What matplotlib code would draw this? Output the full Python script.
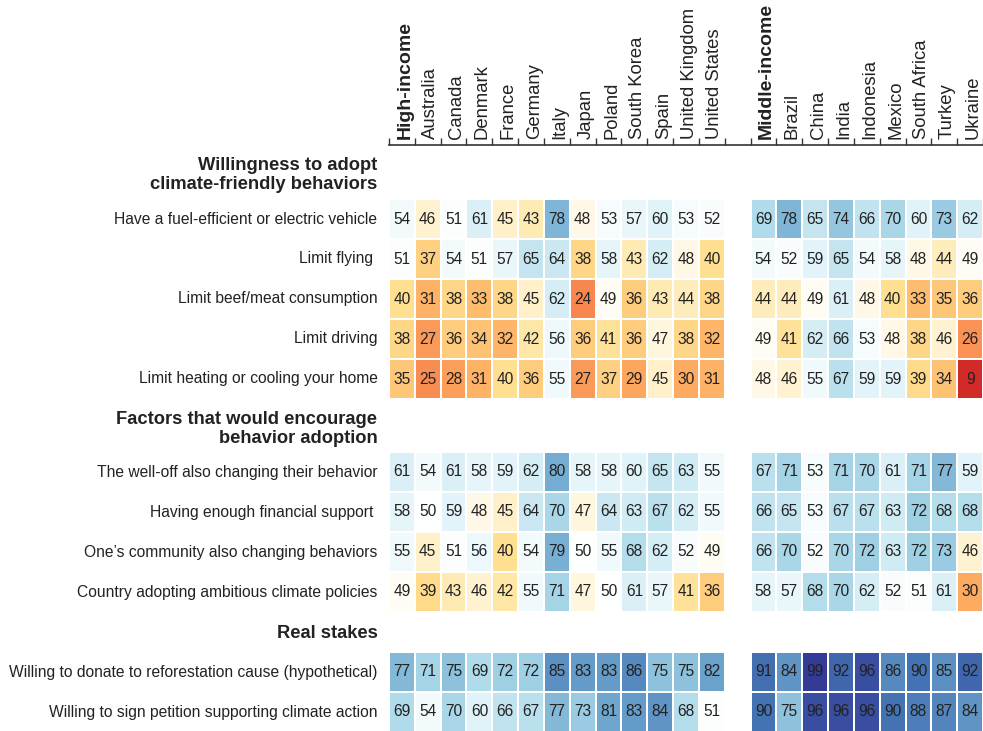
import matplotlib

matplotlib.use("Agg")
import matplotlib.pyplot as plt
from matplotlib.colors import LinearSegmentedColormap
import numpy as np

plt.rcParams["font.family"] = ["Liberation Sans", "DejaVu Sans"]

# %%
high_cols = ["High-income", "Australia", "Canada", "Denmark", "France", "Germany",
             "Italy", "Japan", "Poland", "South Korea", "Spain", "United Kingdom",
             "United States"]
mid_cols = ["Middle-income", "Brazil", "China", "India", "Indonesia", "Mexico",
            "South Africa", "Turkey", "Ukraine"]

sec1_title = "Willingness to adopt\nclimate-friendly behaviors"
sec1_rows = ["Have a fuel-efficient or electric vehicle", "Limit flying ",
             "Limit beef/meat consumption", "Limit driving",
             "Limit heating or cooling your home"]
sec1_high = [
    [54, 46, 51, 61, 45, 43, 78, 48, 53, 57, 60, 53, 52],
    [51, 37, 54, 51, 57, 65, 64, 38, 58, 43, 62, 48, 40],
    [40, 31, 38, 33, 38, 45, 62, 24, 49, 36, 43, 44, 38],
    [38, 27, 36, 34, 32, 42, 56, 36, 41, 36, 47, 38, 32],
    [35, 25, 28, 31, 40, 36, 55, 27, 37, 29, 45, 30, 31],
]
sec1_mid = [
    [69, 78, 65, 74, 66, 70, 60, 73, 62],
    [54, 52, 59, 65, 54, 58, 48, 44, 49],
    [44, 44, 49, 61, 48, 40, 33, 35, 36],
    [49, 41, 62, 66, 53, 48, 38, 46, 26],
    [48, 46, 55, 67, 59, 59, 39, 34, 9],
]

sec2_title = "Factors that would encourage\nbehavior adoption"
sec2_rows = ["The well-off also changing their behavior",
             "Having enough financial support ",
             "One\u2019s community also changing behaviors",
             "Country adopting ambitious climate policies"]
sec2_high = [
    [61, 54, 61, 58, 59, 62, 80, 58, 58, 60, 65, 63, 55],
    [58, 50, 59, 48, 45, 64, 70, 47, 64, 63, 67, 62, 55],
    [55, 45, 51, 56, 40, 54, 79, 50, 55, 68, 62, 52, 49],
    [49, 39, 43, 46, 42, 55, 71, 47, 50, 61, 57, 41, 36],
]
sec2_mid = [
    [67, 71, 53, 71, 70, 61, 71, 77, 59],
    [66, 65, 53, 67, 67, 63, 72, 68, 68],
    [66, 70, 52, 70, 72, 63, 72, 73, 46],
    [58, 57, 68, 70, 62, 52, 51, 61, 30],
]

sec3_title = "Real stakes"
sec3_rows = ["Willing to donate to reforestation cause (hypothetical)",
             "Willing to sign petition supporting climate action"]
sec3_high = [
    [77, 71, 75, 69, 72, 72, 85, 83, 83, 86, 75, 75, 82],
    [69, 54, 70, 60, 66, 67, 77, 73, 81, 83, 84, 68, 51],
]
sec3_mid = [
    [91, 84, 99, 92, 96, 86, 90, 85, 92],
    [90, 75, 96, 96, 96, 90, 88, 87, 84],
]

# %%
# RdYlBu, but with a white midpoint at 50
base = matplotlib.colormaps["RdYlBu"]
stops = [0, 0.1, 0.2, 0.3, 0.4, 0.5, 0.6, 0.7, 0.8, 0.9, 1.0]
colors = [base(s) if s != 0.5 else (1, 1, 1, 1) for s in stops]
cmap = LinearSegmentedColormap.from_list("rdwbu", list(zip(stops, colors)))

columns = high_cols + [""] + mid_cols
ncol = len(columns)

fig = plt.figure(figsize=(9.83, 7.31), dpi=100)
ax = fig.add_axes([389 / 983, 0, 594 / 983, 586 / 731])
ax.set_xlim(0, ncol)
ax.set_ylim(14.65, 0)

sections = [
    (sec1_title, sec1_rows, sec1_high, sec1_mid, 0.76, 1.85),
    (sec2_title, sec2_rows, sec2_high, sec2_mid, 7.1, 8.175),
    (sec3_title, sec3_rows, sec3_high, sec3_mid, 12.225, 13.175),
]
txt = "#222222"
for title, rows, high, mid, y_title, y0 in sections:
    vals = np.full((len(rows), ncol), np.nan)
    vals[:, : len(high_cols)] = np.array(high)
    vals[:, len(high_cols) + 1 :] = np.array(mid)
    xe = np.arange(ncol + 1)
    ye = y0 - 0.5 + np.arange(len(rows) + 1)
    ax.pcolormesh(xe, ye, np.ma.masked_invalid(vals), cmap=cmap, vmin=0, vmax=100,
                  edgecolors="white", linewidth=1.2)
    for i, lab in enumerate(rows):
        ax.text(-0.45, y0 + i, lab, ha="right", va="center", fontsize=11.25, color=txt)
        for j in range(ncol):
            if not np.isnan(vals[i, j]):
                ax.text(j + 0.5, y0 + i, f"{int(vals[i, j])}", ha="center",
                        va="center", fontsize=11.2, color=txt)
    ax.text(-0.45, y_title, title, ha="right", va="center", fontsize=13.2,
            fontweight="bold", color=txt, linespacing=1.15)

# column labels on top
ax.xaxis.tick_top()
ax.set_xticks(np.arange(ncol + 1), minor=True)
ax.set_xticks(np.arange(ncol) + 0.62)
ax.set_xticklabels(columns, rotation=90, ha="center", va="bottom", fontsize=13.3,
                   color=txt)
for t in ax.get_xticklabels():
    if t.get_text() in ("High-income", "Middle-income"):
        t.set_fontweight("bold")
        t.set_fontsize(14)
ax.tick_params(axis="x", which="major", length=0, pad=4)
ax.tick_params(axis="x", which="minor", length=5, width=1, color="#333333",
               top=True, bottom=False)
ax.set_yticks([])
for s in ["left", "right", "bottom"]:
    ax.spines[s].set_visible(False)
ax.spines["top"].set_color("#333333")
ax.spines["top"].set_linewidth(1.2)

plt.savefig("out.png", dpi=100)
